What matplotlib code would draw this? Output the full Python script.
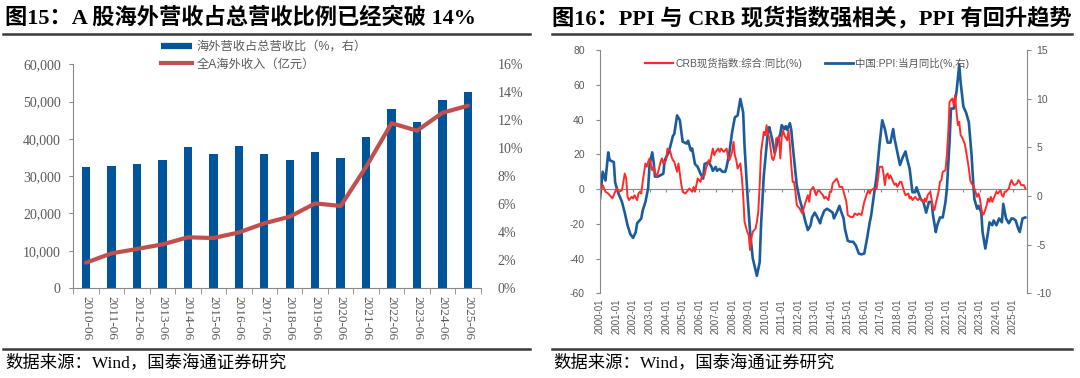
import numpy as np
import pandas as pd
import matplotlib
matplotlib.use('Agg')
import matplotlib.pyplot as plt
import matplotlib.dates as mdates
from matplotlib.lines import Line2D
from matplotlib.ticker import FuncFormatter

plt.rcParams['font.family'] = ['Liberation Sans', 'Noto Sans CJK SC']
plt.rcParams['axes.unicode_minus'] = False

# ---------------- left chart: overseas revenue ----------------
years = ['2010-06', '2011-06', '2012-06', '2013-06', '2014-06', '2015-06',
         '2016-06', '2017-06', '2018-06', '2019-06', '2020-06', '2021-06',
         '2022-06', '2023-06', '2024-06', '2025-06']
share_pct = [8.66, 8.74, 8.9, 9.14, 10.07, 9.62, 10.17, 9.57, 9.19, 9.74,
             9.31, 10.79, 12.83, 11.9, 13.43, 14.05]
overseas_rev = [6790, 9300, 10460, 11700, 13600, 13400, 14900, 17350, 19130,
                22700, 22000, 32500, 44200, 42200, 47000, 48900]

# ---------------- right chart: CRB vs PPI ----------------
crb_dates = ['2000-01', '2000-03', '2000-05', '2000-07', '2000-08', '2000-10', '2000-12',
             '2001-01', '2001-03', '2001-05', '2001-07', '2001-08', '2001-09', '2001-10', '2001-12',
             '2002-01', '2002-02', '2002-04', '2002-05', '2002-06', '2002-07', '2002-08', '2002-10',
             '2002-11', '2002-12', '2003-01', '2003-03', '2003-04', '2003-05', '2003-06', '2003-07',
             '2003-09', '2003-10', '2003-11', '2004-01', '2004-02', '2004-04', '2004-05', '2004-06',
             '2004-07', '2004-09', '2004-10', '2004-11', '2004-12', '2005-01', '2005-03', '2005-05',
             '2005-06', '2005-08', '2005-09', '2005-10', '2005-11', '2005-12', '2006-02', '2006-03',
             '2006-05', '2006-06', '2006-08', '2006-09', '2006-11', '2006-12', '2007-01', '2007-03',
             '2007-04', '2007-05', '2007-07', '2007-09', '2007-10', '2007-11', '2008-01', '2008-02',
             '2008-03', '2008-04', '2008-05', '2008-07', '2008-08', '2008-09', '2008-10', '2008-12',
             '2009-01', '2009-02', '2009-03', '2009-04', '2009-06', '2009-07', '2009-08', '2009-09',
             '2009-10', '2009-12', '2010-01', '2010-02', '2010-03', '2010-04', '2010-06', '2010-07',
             '2010-08', '2010-09', '2010-11', '2010-12', '2011-01', '2011-02', '2011-03', '2011-05',
             '2011-06', '2011-07', '2011-08', '2011-09', '2011-10', '2011-11', '2011-12', '2012-02',
             '2012-04', '2012-05', '2012-06', '2012-08', '2012-09', '2012-10', '2012-12', '2013-01',
             '2013-02', '2013-03', '2013-04', '2013-06', '2013-07', '2013-08', '2013-09', '2013-11',
             '2013-12', '2014-01', '2014-02', '2014-04', '2014-05', '2014-06', '2014-07', '2014-09',
             '2014-10', '2014-12', '2015-01', '2015-03', '2015-05', '2015-06', '2015-08', '2015-09',
             '2015-11', '2015-12', '2016-01', '2016-03', '2016-04', '2016-05', '2016-06', '2016-08',
             '2016-10', '2016-11', '2016-12', '2017-02', '2017-03', '2017-04', '2017-05', '2017-06',
             '2017-07', '2017-08', '2017-10', '2017-11', '2017-12', '2018-01', '2018-03', '2018-04',
             '2018-05', '2018-06', '2018-07', '2018-09', '2018-10', '2018-11', '2018-12', '2019-02',
             '2019-03', '2019-04', '2019-05', '2019-07', '2019-08', '2019-09', '2019-10', '2019-11',
             '2020-01', '2020-02', '2020-03', '2020-04', '2020-05', '2020-07', '2020-08', '2020-09',
             '2020-10', '2020-12', '2021-01', '2021-02', '2021-03', '2021-05', '2021-06', '2021-07',
             '2021-08', '2021-09', '2021-10', '2021-11', '2021-12', '2022-01', '2022-02', '2022-03',
             '2022-05', '2022-06', '2022-07', '2022-08', '2022-09', '2022-11', '2022-12', '2023-01',
             '2023-02', '2023-03', '2023-04', '2023-06', '2023-07', '2023-08', '2023-09', '2023-10',
             '2023-11', '2024-01', '2024-02', '2024-04', '2024-05', '2024-06', '2024-07', '2024-08',
             '2024-10', '2024-11', '2024-12', '2025-01', '2025-02', '2025-04', '2025-05', '2025-06',
             '2025-07', '2025-09', '2025-10']
crb_vals = [-1.5, 2.3, -1.5, -2.5, -3.5, -5.3, -1.5,
            0.4, -1.5, -0.6, 9.0, 6.3, -4.4, -6.3, -4.4,
            -5.4, -3.5, -6.3, -2.5, -1.5, -2.5, 4.2, 14.8,
            12.9, 15.7, 17.7, 10.9, 12.9, 10.0, 7.1, 9.0,
            15.7, 17.7, 14.8, 16.7, 23.4, 21.9, 18.6, 16.7,
            15.7, 10.0, 14.8, 9.0, 3.0, -1.5, -2.5, -0.6,
            0.4, -1.5, 1.3, -1.5, 2.3, 6.1, 4.2, 7.1,
            8.1, 11.9, 16.7, 15.7, 23.4, 19.6, 21.5, 23.4,
            21.5, 23.4, 21.5, 23.4, 19.0, 16.7, 21.5, 27.3,
            19.6, 16.7, 11.9, 14.8, 7.1, -3.5, -18.8, -24.6,
            -26.5, -35.1, -28.4, -24.6, -22.7, -18.8, -13.1, 2.3,
            21.5, 33.0, 31.1, 36.9, 32.0, 29.2, 17.7, 16.7,
            19.6, 29.2, 30.1, 17.7, 30.1, 34.0, 31.1, 28.2,
            34.0, 25.3, 13.8, 4.2, 4.2, -1.5, -9.2, -11.1,
            -14.0, -11.1, -8.2, -3.5, -7.3, -0.6, 1.3, -1.5,
            -3.5, -1.5, -0.6, -2.5, -3.5, -5.4, -4.4, -6.3,
            -1.5, -1.5, 3.3, 5.2, 6.1, 4.2, 1.3, 1.3,
            -1.5, -7.3, -14.9, -16.0, -16.0, -14.0, -14.9, -14.0,
            -14.9, -11.1, -7.3, -2.5, -0.6, -2.5, -0.6, 0.4,
            0.4, 6.1, 12.9, 12.9, 9.0, 2.3, 8.1, 9.0,
            6.1, 8.0, 4.2, 2.5, 3.3, 1.3, 4.2, 4.2,
            1.3, -1.5, -3.5, -2.5, -5.4, -4.4, -6.3, -4.4,
            -5.4, -6.3, -5.4, -6.3, -7.3, -5.4, -7.3, -3.5,
            -1.5, -6.3, -11.1, -12.0, -8.2, -1.5, 4.2, 5.2,
            10.0, 10.9, 19.6, 33.0, 50.3, 52.2, 48.4, 54.1,
            44.5, 36.9, 38.8, 31.1, 30.0, 28.0, 26.0, 22.0,
            12.0, 5.2, 3.3, 2.3, 0.4, -4.4, -2.5, -5.4,
            -11.1, -14.9, -14.0, -9.2, -5.4, -7.3, -4.4, -7.3,
            -5.4, -1.5, -2.5, -0.6, -3.5, -4.4, -1.5, -1.5,
            0.4, 3.3, 5.2, 3.3, 2.3, 3.3, 5.2, 4.2,
            2.3, 2.3, 0.4]

ppi_dates = ['2000-01', '2000-03', '2000-05', '2000-07', '2000-08', '2000-11', '2000-12',
             '2001-02', '2001-05', '2001-07', '2001-09', '2001-11', '2002-01', '2002-03', '2002-04',
             '2002-07', '2002-08', '2002-10', '2002-12', '2003-01', '2003-03', '2003-04', '2003-05',
             '2003-07', '2003-11', '2003-12', '2004-03', '2004-06', '2004-07', '2004-09', '2004-11',
             '2005-01', '2005-04', '2005-05', '2005-07', '2005-08', '2005-10', '2005-12', '2006-02',
             '2006-04', '2006-05', '2006-08', '2006-10', '2006-11', '2007-01', '2007-02', '2007-04',
             '2007-06', '2007-08', '2007-09', '2007-11', '2008-01', '2008-03', '2008-05', '2008-07',
             '2008-09', '2008-10', '2008-12', '2009-02', '2009-04', '2009-07', '2009-09', '2009-10',
             '2009-12', '2010-02', '2010-03', '2010-04', '2010-06', '2010-08', '2010-10', '2010-12',
             '2011-01', '2011-03', '2011-04', '2011-05', '2011-07', '2011-08', '2011-09', '2011-11',
             '2011-12', '2012-02', '2012-04', '2012-06', '2012-08', '2012-10', '2012-11', '2013-01',
             '2013-03', '2013-05', '2013-06', '2013-08', '2013-10', '2013-12', '2014-02', '2014-03',
             '2014-05', '2014-07', '2014-08', '2014-10', '2014-11', '2015-01', '2015-03', '2015-05',
             '2015-07', '2015-09', '2015-11', '2016-01', '2016-03', '2016-05', '2016-06', '2016-08',
             '2016-10', '2016-12', '2017-02', '2017-04', '2017-06', '2017-08', '2017-10', '2017-11',
             '2018-01', '2018-03', '2018-05', '2018-07', '2018-08', '2018-10', '2018-12', '2019-02',
             '2019-03', '2019-04', '2019-06', '2019-08', '2019-10', '2019-12', '2020-02', '2020-03',
             '2020-05', '2020-06', '2020-08', '2020-10', '2020-12', '2021-01', '2021-03', '2021-04',
             '2021-06', '2021-08', '2021-10', '2021-11', '2022-01', '2022-03', '2022-05', '2022-06',
             '2022-07', '2022-08', '2022-09', '2022-11', '2022-12', '2023-02', '2023-03', '2023-05',
             '2023-07', '2023-08', '2023-10', '2023-11', '2024-01', '2024-03', '2024-05', '2024-06',
             '2024-08', '2024-10', '2024-12', '2025-01', '2025-03', '2025-05', '2025-06', '2025-08',
             '2025-10']
ppi_vals = [-0.3, 2.5, 1.6, 4.5, 3.7, 3.5, 1.4,
            0.4, -0.6, -1.7, -3.0, -3.9, -4.3, -3.7, -2.8,
            -2.3, -1.5, -0.6, 0.8, 3.2, 4.5, 3.5, 2.0,
            2.0, 2.3, 3.7, 4.5, 6.2, 6.4, 8.3, 7.8,
            5.6, 5.4, 5.7, 4.7, 4.9, 3.3, 3.0, 2.3,
            1.8, 3.3, 3.5, 3.0, 2.6, 3.0, 2.6, 2.8,
            2.5, 2.5, 3.0, 4.5, 6.6, 8.1, 8.3, 10.0,
            8.6, 5.2, 0.4, -3.7, -6.4, -8.2, -6.8, -3.0,
            2.1, 5.2, 6.6, 7.1, 5.9, 4.4, 5.6, 6.4,
            7.3, 6.9, 7.2, 6.8, 7.5, 6.8, 5.2, 2.5,
            1.1, -0.3, -1.3, -2.5, -3.5, -3.0, -2.2, -1.7,
            -2.2, -2.8, -2.2, -1.5, -1.3, -1.5, -1.7, -2.3,
            -1.7, -1.0, -1.5, -2.3, -3.4, -4.6, -4.7, -4.7,
            -5.1, -5.9, -6.0, -5.9, -4.4, -2.7, -2.0, 0.1,
            2.1, 5.2, 7.8, 6.9, 5.5, 5.5, 6.9, 5.9,
            4.5, 3.2, 4.0, 4.6, 3.9, 2.8, 0.4, 0.4,
            0.9, 0.5, -0.3, -0.6, -1.7, -0.6, -0.6, -2.0,
            -3.7, -3.0, -2.2, -2.2, -0.6, 0.8, 5.6, 9.0,
            9.0, 10.7, 13.5, 11.7, 9.2, 8.6, 7.6, 5.9,
            4.2, 1.8, -0.3, -1.3, -1.0, -1.7, -3.7, -5.4,
            -3.7, -2.7, -3.0, -2.5, -3.0, -2.3, -2.7, -0.8,
            -2.3, -2.8, -2.3, -2.3, -2.5, -3.4, -3.7, -2.3,
            -2.2]

W, H = 1080, 378
GRAY = '#898989'
TXT = '#595959'
BAR_BLUE = '#00549A'
LINE_RED = '#C0504D'
CRB_RED = '#FF2B2B'
PPI_BLUE = '#1A5C9C'
CJK_SERIF = ['Liberation Serif', 'Noto Sans CJK SC']


def px_rect(x0, y0, x1, y1):
    return [x0 / W, 1 - y1 / H, (x1 - x0) / W, (y1 - y0) / H]


fig = plt.figure(figsize=(W / 100, H / 100), dpi=100)

# ---- titles, rules, sources ----
fig.text(5 / W, 1 - 18 / H, '图15：A 股海外营收占总营收比例已经突破 14%', fontsize=16,
         fontweight='bold', family=CJK_SERIF, va='center', ha='left')
fig.text(552 / W, 1 - 18 / H, '图16：PPI 与 CRB 现货指数强相关，PPI 有回升趋势', fontsize=16,
         fontweight='bold', family=CJK_SERIF, va='center', ha='left')
for x0, x1 in [(3, 530), (552, 1072)]:
    for yy in (34, 349):
        fig.add_artist(Line2D([x0 / W, x1 / W], [1 - yy / H] * 2, color='#3a3a3a', lw=1.8))
for x0 in (5, 553):
    fig.text(x0 / W, 1 - 363 / H, '数据来源：Wind，国泰海通证券研究', fontsize=12.5,
             family=CJK_SERIF, va='center', ha='left')

# ---- left chart ----
axL = fig.add_axes(px_rect(73.3, 64.3, 480.7, 288))
axLb = axL.twinx()
x = np.arange(len(years))
axLb.bar(x, share_pct, width=0.33, color=BAR_BLUE)
axL.plot(x, overseas_rev, color=LINE_RED, lw=3, solid_capstyle='round')
axL.set_zorder(axLb.get_zorder() + 1)
axL.patch.set_visible(False)

axL.set_xlim(-0.5, len(years) - 0.5)
axL.set_ylim(0, 60000)
axL.set_yticks(np.arange(0, 60001, 10000))
axL.yaxis.set_major_formatter(FuncFormatter(lambda v, _: f'{int(v):,}'))
axLb.set_ylim(0, 16)
axLb.set_yticks(np.arange(0, 17, 2))
axLb.yaxis.set_major_formatter(FuncFormatter(lambda v, _: f'{int(v)}%'))

axL.set_xticks(x, years)
axL.set_xticks(np.arange(-0.5, len(years), 1), minor=True)
axL.tick_params(axis='x', which='major', length=0, pad=6, rotation=270,
                labelsize=9.5, labelcolor=TXT, labelfontfamily='Liberation Serif')
axL.tick_params(axis='x', which='minor', length=4, color=GRAY)
axL.tick_params(axis='y', length=3, color=GRAY, pad=6, labelsize=10,
                labelcolor=TXT, labelfontfamily='Liberation Serif')
axLb.tick_params(axis='y', length=0, pad=12, labelsize=10, labelcolor=TXT,
                 labelfontfamily='Liberation Serif')
for a in (axL, axLb):
    for s in ('top', 'right'):
        a.spines[s].set_visible(False)
axLb.spines['left'].set_visible(False)
axLb.spines['bottom'].set_visible(False)
axL.spines['left'].set_color(GRAY)
axL.spines['bottom'].set_color(GRAY)

fig.legend([Line2D([], [], color=BAR_BLUE, lw=4.5, solid_capstyle='butt'),
            Line2D([], [], color=LINE_RED, lw=3)],
           ['海外营收占总营收比（%，右）', '全A海外收入（亿元）'],
           loc='upper left', bbox_to_anchor=(161 / W, 1 - 41 / H), frameon=False,
           fontsize=8.8, handlelength=2.5, handletextpad=0.4, labelspacing=0.45,
           borderpad=0, borderaxespad=0, labelcolor=TXT)

# ---- right chart ----
CRB_LIM = (-60, 80)
axR = fig.add_axes(px_rect(600, 50.3, 1026.7, 293.3))
axR2 = axR.twinx()
axR2.plot(pd.to_datetime(ppi_dates), ppi_vals, color=PPI_BLUE, lw=1.9)
axR.plot(pd.to_datetime(crb_dates), crb_vals, color=CRB_RED, lw=1.4)
axR.set_zorder(axR2.get_zorder() + 1)
axR.patch.set_visible(False)

axR.set_xlim(pd.Timestamp('2000-01-01'), pd.Timestamp('2025-11-01'))
axR.set_ylim(*CRB_LIM)
axR.set_yticks(np.arange(-60, 81, 20))
axR2.set_ylim(-10, 15)
axR2.set_yticks(np.arange(-10, 16, 5))
axR.xaxis.set_major_locator(mdates.YearLocator(1, month=1, day=1))
axR.xaxis.set_major_formatter(mdates.DateFormatter('%Y-%m'))
axR.tick_params(axis='x', length=0, pad=4, rotation=90, labelsize=7, labelcolor=TXT)
axR.tick_params(axis='y', length=3, color=GRAY, pad=8, labelsize=7.5, labelcolor=TXT)
axR2.tick_params(axis='y', length=3, color=GRAY, pad=4, labelsize=7.5, labelcolor=TXT)
for a in (axR, axR2):
    for s in ('top', 'bottom'):
        a.spines[s].set_visible(False)
axR.spines['right'].set_visible(False)
axR2.spines['left'].set_visible(False)
axR.spines['left'].set_color(GRAY)
axR2.spines['right'].set_color(GRAY)

# zero line with yearly ticks, drawn beneath the curves
zero_frac = (0 - CRB_LIM[0]) / (CRB_LIM[1] - CRB_LIM[0])
sec = axR2.secondary_xaxis(zero_frac)
sec.xaxis.set_major_locator(mdates.YearLocator(1, month=1, day=1))
sec.tick_params(axis='x', length=2.5, color=GRAY, labelbottom=False, labeltop=False)
for s in sec.spines.values():
    s.set_color(GRAY)

fig.legend([Line2D([], [], color=CRB_RED, lw=1.6), Line2D([], [], color=PPI_BLUE, lw=2)],
           ['CRB现货指数:综合:同比(%)', '中国:PPI:当月同比(%,右)'],
           loc='center left', bbox_to_anchor=(645 / W, 1 - 63 / H), ncol=2, frameon=False,
           fontsize=7.5, handlelength=2.7, handletextpad=0.2, columnspacing=2.2,
           borderpad=0, borderaxespad=0, labelcolor=TXT)

fig.savefig('out.png', dpi=100)
